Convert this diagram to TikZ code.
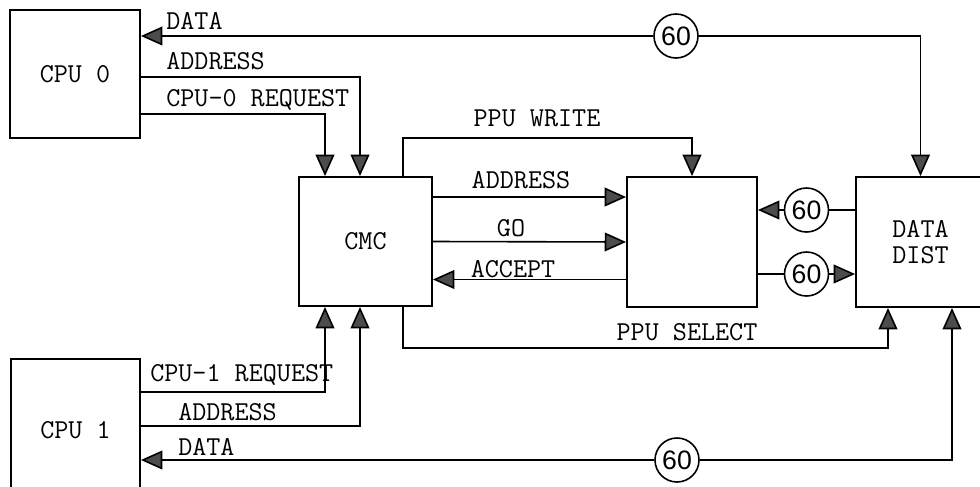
\documentclass[tikz,border=0pt]{standalone}
\usepackage{fontspec}
\newfontfamily\numfont{Liberation Sans}
\usetikzlibrary{arrows.meta,calc,positioning}

\begin{document}
\begin{tikzpicture}[
  x=0.75pt, y=-0.75pt,
  unit/.style={draw, line width=1.4pt, inner sep=0pt, align=center,
    font=\ttfamily\fontsize{20.5}{20}\selectfont},
  delay/.style={draw, circle, line width=1.2pt, minimum size=33pt, inner sep=0pt,
    font=\numfont\fontsize{20}{20}\selectfont},
  arrow/.style={-{Triangle[length=16pt, width=14pt, fill=black!70]}, line width=1.2pt},
  wire/.style={line width=1.2pt},
  label/.style={font=\ttfamily\fontsize{20.5}{20}\selectfont, inner sep=0pt},
]
\useasboundingbox (0,0) rectangle (980,486);
\clip (0,0) rectangle (980,486);

% === UNITS ===
\node[unit, minimum width=97.5pt, minimum height=96pt] (cpu0) at (75,74) {CPU 0};
\node[unit, minimum width=96.75pt, minimum height=106.5pt] (cpu1) at (75.5,430) {CPU 1};
\node[unit, minimum width=99.75pt, minimum height=96.75pt] (cmc) at (365.5,241.5) {CMC};
\node[unit, minimum width=97.5pt, minimum height=97.5pt] (ppu) at (692,242) {};
\node[unit, minimum width=96.75pt, minimum height=97.5pt] (dist) at (920.5,242) {DATA\\DIST};

% === DELAY CIRCLES ===
\node[delay] (d0) at (676,36) {60};
\node[delay] (d1) at ($(ppu.east)!0.5!(dist.west)+(0,-32)$) {60};
\node[delay] (d2) at ($(ppu.east)!0.5!(dist.west)+(0,32)$) {60};
\node[delay] (d3) at (677,460) {60};

% === CPU 0 <-> CMC / DATA DIST ===
\draw[arrow] (d0) -- (cpu0.east |- d0);
\draw[arrow] (d0) -| (dist.north);
\draw[arrow] ($(cpu0.east)+(0,3)$) -| ($(cmc.north)+(-5.5,0)$);
\draw[arrow] ($(cpu0.east)+(0,40)$) -| ($(cmc.north)+(-40.5,0)$);

% === CPU 1 <-> CMC / DATA DIST ===
\draw[arrow] ($(cpu1.east)+(0,-38)$) -| ($(cmc.south)+(-40.5,0)$);
\draw[arrow] ($(cpu1.east)+(0,-4)$) -| ($(cmc.south)+(-5.5,0)$);
\draw[arrow] (d3) -- (cpu1.east |- d3);
\draw[arrow] (d3) -| ($(dist.south)+(31.5,0)$);

% === CMC <-> PPU ===
\draw[arrow] ($(cmc.north)+(37.5,0)$) |- ($(ppu.north)+(0,-38)$) -- (ppu.north);
\draw[arrow] (cmc.east) ++(0,-44.5) coordinate (addr) -- (addr -| ppu.west);
\draw[arrow] (cmc.east) -- (ppu.west);
\draw[arrow] (ppu.west) ++(0,37.5) coordinate (acc) -- (acc -| cmc.east);
\draw[arrow] ($(cmc.south)+(37.5,0)$) |- ($(dist.south)+(-32.5,40)$) -- ($(dist.south)+(-32.5,0)$);

% === PPU <-> DATA DIST ===
\draw[wire] (dist.west |- d1) -- (d1);
\draw[arrow] (d1) -- (ppu.east |- d1);
\draw[wire] (ppu.east |- d2) -- (d2);
\draw[arrow] (d2) -- (dist.west |- d2);

% === LABELS ===
\node[label, anchor=west] (lData0) at (166,21) {DATA};
\node[label, anchor=west] (lAddr0) at (166,61) {ADDRESS};
\node[label, anchor=west] (lReq0) at (166,100) {CPU-0 REQUEST};
\node[label] (lWrite) at (537,118) {PPU WRITE};
\node[label] (lAddr) at (521,180) {ADDRESS};
\node[label] (lGo) at (511,228) {GO};
\node[label] (lAcc) at (513,269) {ACCEPT};
\node[label] (lSel) at (687,332) {PPU SELECT};
\node[label, anchor=west] (lReq1) at (150,375) {CPU-1 REQUEST};
\node[label, anchor=west] (lAddr1) at (178,412) {ADDRESS};
\node[label, anchor=west] (lData1) at (178,447) {DATA};
\end{tikzpicture}
\end{document}
